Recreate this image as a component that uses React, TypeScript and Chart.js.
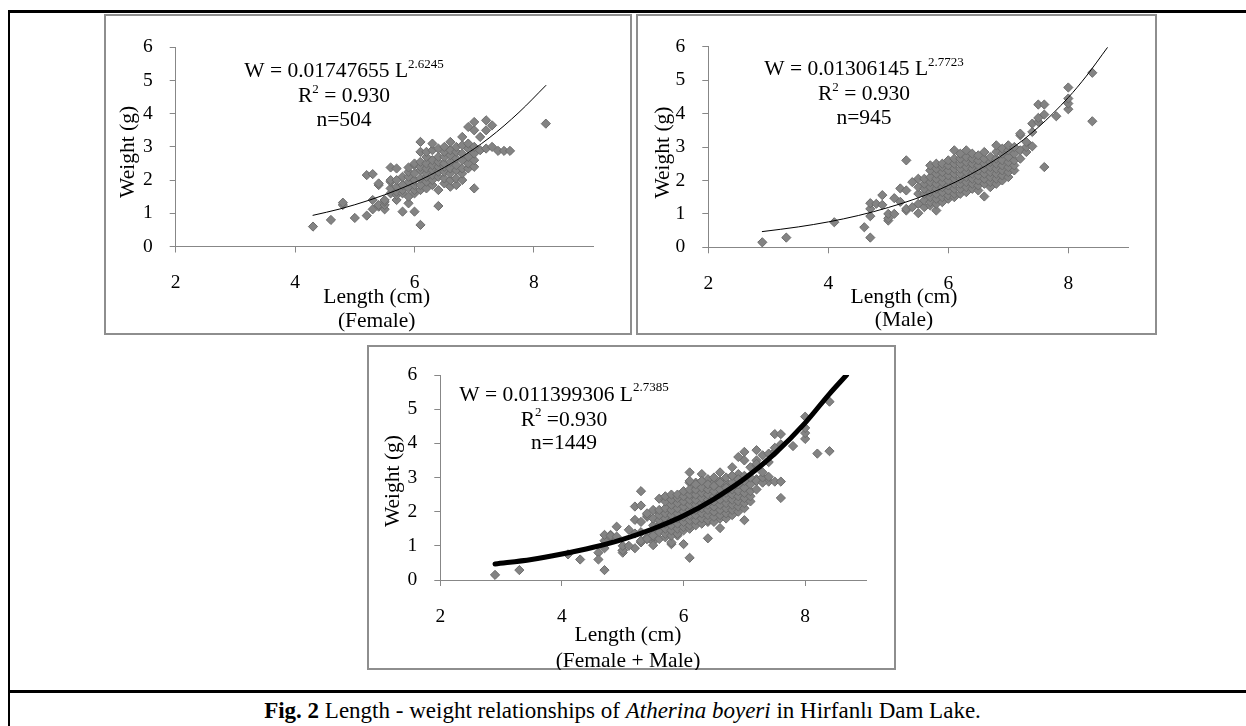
import { useEffect, useRef } from "react";
import { Chart, registerables } from "chart.js";

Chart.register(...registerables);

const FONT = '"Liberation Serif", "Times New Roman", serif';

// ---------- data ----------
const xTickValues = [2, 4, 6, 8];
const yTickValues = [0, 1, 2, 3, 4, 5, 6];

const femaleLengths = [4.3, 4.6, 4.8, 5.0, 5.2, 5.3, 5.4, 5.5, 5.6, 5.7, 5.8, 5.9, 6.0, 6.1, 6.2, 6.3, 6.4, 6.5, 6.6, 6.7, 6.8, 6.9, 7.0, 7.1, 7.2, 7.3, 7.4, 7.5, 7.6, 8.2];
const femaleWeights = [
  [0.6],
  [0.8],
  [1.25, 1.32],
  [0.86],
  [0.93, 2.15],
  [1.12, 1.4, 2.18],
  [1.2, 1.25, 1.85, 1.9],
  [1.12, 1.25, 1.35, 1.4],
  [1.6, 1.75, 1.95, 2.0, 2.38],
  [1.4, 1.55, 1.65, 1.8, 2.0, 2.35],
  [1.05, 1.6, 1.7, 1.85, 2.1],
  [1.3, 1.5, 1.75, 1.95, 2.1, 2.25, 2.38],
  [1.05, 1.6, 1.7, 1.85, 2.0, 2.2, 2.45, 2.5],
  [0.65, 1.7, 1.85, 2.05, 2.3, 2.4, 2.55, 2.85, 3.15],
  [1.75, 1.95, 2.1, 2.2, 2.35, 2.5, 2.7, 2.85],
  [1.85, 2.0, 2.15, 2.3, 2.45, 2.6, 2.9, 3.1],
  [1.22, 1.7, 2.1, 2.25, 2.4, 2.55, 2.7, 2.95],
  [1.9, 2.05, 2.25, 2.4, 2.5, 2.7, 2.85, 3.0],
  [1.8, 2.0, 2.2, 2.35, 2.55, 2.75, 2.9, 3.15],
  [1.85, 2.05, 2.3, 2.45, 2.65, 2.85, 3.0],
  [2.0, 2.2, 2.35, 2.6, 2.8, 3.05, 3.3],
  [2.35, 2.5, 2.7, 2.95, 3.1, 3.6],
  [1.75, 2.4, 2.6, 2.8, 3.0, 3.5, 3.75],
  [2.9, 3.3],
  [2.95, 3.5, 3.8],
  [3.0, 3.65],
  [2.88],
  [2.88],
  [2.88],
  [3.7],
];

const maleLengths = [2.9, 3.3, 4.1, 4.6, 4.7, 4.8, 4.9, 5.0, 5.1, 5.2, 5.3, 5.4, 5.5, 5.6, 5.7, 5.8, 5.9, 6.0, 6.1, 6.2, 6.3, 6.4, 6.5, 6.6, 6.7, 6.8, 6.9, 7.0, 7.1, 7.2, 7.3, 7.4, 7.5, 7.6, 7.8, 8.0, 8.4];
const maleWeights = [
  [0.15],
  [0.29],
  [0.75],
  [0.6],
  [0.29, 0.93, 1.15, 1.32],
  [1.3],
  [1.27, 1.56],
  [0.8, 0.87, 1.0],
  [1.0, 1.47],
  [1.36, 1.76],
  [1.1, 1.15, 1.7, 2.6],
  [1.2, 1.95],
  [1.02, 1.3, 1.6, 1.8, 2.05],
  [1.2, 1.4, 1.6, 1.75, 1.9, 2.05],
  [1.25, 1.35, 1.5, 1.65, 1.8, 1.95, 2.1, 2.3, 2.45],
  [1.1, 1.3, 1.45, 1.6, 1.75, 1.9, 2.05, 2.2, 2.35, 2.5],
  [1.35, 1.5, 1.65, 1.8, 1.95, 2.1, 2.25, 2.4, 2.5],
  [1.45, 1.55, 1.7, 1.85, 2.0, 2.15, 2.3, 2.45, 2.6],
  [1.5, 1.6, 1.75, 1.9, 2.05, 2.2, 2.35, 2.5, 2.65, 2.9],
  [1.6, 1.75, 1.9, 2.05, 2.2, 2.35, 2.5, 2.65, 2.8],
  [1.65, 1.8, 1.95, 2.1, 2.25, 2.4, 2.55, 2.7, 2.9],
  [1.75, 1.9, 2.05, 2.2, 2.35, 2.5, 2.65, 2.8],
  [1.7, 1.85, 2.0, 2.15, 2.3, 2.45, 2.6, 2.75],
  [1.52, 1.9, 2.05, 2.2, 2.35, 2.5, 2.65, 2.85],
  [1.8, 1.95, 2.1, 2.25, 2.4, 2.55, 2.7],
  [1.9, 2.05, 2.2, 2.35, 2.5, 2.65, 2.85, 3.05],
  [2.0, 2.15, 2.3, 2.45, 2.6, 2.8, 2.95],
  [2.1, 2.25, 2.4, 2.55, 2.7, 2.9, 3.05],
  [2.3, 2.45, 2.6, 2.8, 3.0],
  [2.65, 2.9, 3.35, 3.4],
  [2.85, 3.0, 3.15],
  [3.02, 3.45, 3.7],
  [3.75, 3.87, 4.27],
  [2.4, 3.97, 4.27],
  [3.92],
  [4.13, 4.3, 4.45, 4.78],
  [3.77, 5.22],
];

// trend lines
const femaleTrendLengths = [4.3, 4.75, 5.25, 5.75, 6.25, 6.75, 7.25, 7.75, 8.2];
const femaleTrendWeights = [0.94, 1.13, 1.4, 1.73, 2.14, 2.65, 3.27, 4.04, 4.85];
const maleTrendLengths = [2.9, 3.5, 4.0, 4.5, 5.0, 5.5, 6.0, 6.5, 7.0, 7.5, 8.0, 8.3, 8.65];
const maleTrendWeights = [0.47, 0.61, 0.76, 0.95, 1.19, 1.48, 1.85, 2.31, 2.88, 3.59, 4.48, 5.12, 5.97];
const allTrendLengths = [2.9, 3.5, 4.0, 4.5, 5.0, 5.5, 6.0, 6.5, 7.0, 7.5, 8.0, 8.4, 8.68];
const allTrendWeights = [0.47, 0.6, 0.76, 0.95, 1.19, 1.5, 1.88, 2.37, 2.96, 3.7, 4.6, 5.45, 6.0];

const femaleNotes = [
  [{ t: "W = 0.01747655 L" }, { t: "2.6245", sup: true }],
  [{ t: "R" }, { t: "2", sup: true }, { t: " = 0.930" }],
  [{ t: "n=504" }],
];
const maleNotes = [
  [{ t: "W = 0.01306145 L" }, { t: "2.7723", sup: true }],
  [{ t: "R" }, { t: "2", sup: true }, { t: " = 0.930" }],
  [{ t: "n=945" }],
];
const allNotes = [
  [{ t: "W = 0.011399306 L" }, { t: "2.7385", sup: true }],
  [{ t: "R" }, { t: "2", sup: true }, { t: " =0.930" }],
  [{ t: "n=1449" }],
];

// ---------- helpers ----------
type Seg = { t: string; sup?: boolean };
type Box = { l: number; t: number; r: number; b: number };

const toPoints = (lengths: number[], weights: number[][]) =>
  lengths.flatMap((L, i) => weights[i].map((w) => ({ x: L, y: w })));
const toLine = (lengths: number[], weights: number[]) =>
  lengths.map((L, i) => ({ x: L, y: weights[i] }));

const femalePoints = toPoints(femaleLengths, femaleWeights);
const malePoints = toPoints(maleLengths, maleWeights);
const allPoints = [...femalePoints, ...malePoints];

function drawRich(ctx: CanvasRenderingContext2D, segs: Seg[], cx: number, baseline: number, size: number) {
  const supSize = Math.round(size * 0.62);
  const widths: number[] = [];
  let total = 0;
  segs.forEach((sg) => {
    ctx.font = `${sg.sup ? supSize : size}px ${FONT}`;
    const w = ctx.measureText(sg.t).width;
    widths.push(w);
    total += w;
  });
  let x = cx - total / 2;
  ctx.textAlign = "left";
  ctx.textBaseline = "alphabetic";
  segs.forEach((sg, i) => {
    ctx.font = `${sg.sup ? supSize : size}px ${FONT}`;
    ctx.fillText(sg.t, x, sg.sup ? baseline - size * 0.42 : baseline);
    x += widths[i];
  });
}

type Spec = {
  box: Box;
  area: Box;
  points: { x: number; y: number }[];
  trend: { x: number; y: number }[];
  trendWidth: number;
  notes: Seg[][];
  noteX: number;
  noteY: number[];
  xTitle: string[];
  xTitleDX: number;
  xTitleDY: number[];
  yTitleDX: number;
  yTitleDY: number;
};

const specs: Spec[] = [
  {
    box: { l: 103.5, t: 14.3, r: 632.3, b: 335 },
    area: { l: 175.7, t: 47.3, r: 593.6, b: 246.5 },
    points: femalePoints,
    trend: toLine(femaleTrendLengths, femaleTrendWeights),
    trendWidth: 1,
    notes: femaleNotes,
    noteX: 168.3,
    noteY: [30, 54.5, 78.5],
    xTitle: ["Length (cm)", "(Female)"],
    xTitleDX: 201,
    xTitleDY: [51, 75],
    yTitleDX: -47.5,
    yTitleDY: 5,
  },
  {
    box: { l: 636, t: 14.3, r: 1157.3, b: 335 },
    area: { l: 708.3, t: 46.7, r: 1128.3, b: 247.3 },
    points: malePoints,
    trend: toLine(maleTrendLengths, maleTrendWeights),
    trendWidth: 1,
    notes: maleNotes,
    noteX: 155.7,
    noteY: [28.5, 53, 77],
    xTitle: ["Length (cm)", "(Male)"],
    xTitleDX: 195.7,
    xTitleDY: [50, 73.5],
    yTitleDX: -45.3,
    yTitleDY: 5.5,
  },
  {
    box: { l: 367, t: 345, r: 896, b: 670 },
    area: { l: 440.3, t: 375, r: 866, b: 580 },
    points: allPoints,
    trend: toLine(allTrendLengths, allTrendWeights),
    trendWidth: 5,
    notes: allNotes,
    noteX: 123.7,
    noteY: [25.5, 50.5, 73.5],
    xTitle: ["Length (cm)", "(Female + Male)"],
    xTitleDX: 187.7,
    xTitleDY: [55.7, 81],
    yTitleDX: -47.3,
    yTitleDY: 3.5,
  },
];

const AXIS_COLOR = "#878787";
const TICK_SIZE = 19.5;
const TITLE_SIZE = 21.5;
const NOTE_SIZE = 21.5;

function Panel({ spec }: { spec: Spec }) {
  const ref = useRef<HTMLCanvasElement>(null);
  const cl = Math.floor(spec.box.l);
  const ct = Math.floor(spec.box.t);
  const cw = Math.ceil(spec.box.r) - cl;
  const ch = Math.ceil(spec.box.b) - ct;

  useEffect(() => {
    const canvas = ref.current;
    if (!canvas) return;
    const a = spec.area;
    const yAxisW = a.l - cl;
    const padTop = a.t - ct;
    const padRight = cl + cw - a.r;
    const xAxisH = ct + ch - a.b;

    const textPlugin = {
      id: "panelText",
      afterDraw(chart: any) {
        const ctx: CanvasRenderingContext2D = chart.ctx;
        const ca = chart.chartArea;
        ctx.save();
        ctx.fillStyle = "#000";
        spec.notes.forEach((line, i) => drawRich(ctx, line, ca.left + spec.noteX, ca.top + spec.noteY[i], NOTE_SIZE));
        ctx.font = `${TITLE_SIZE}px ${FONT}`;
        ctx.textAlign = "center";
        ctx.textBaseline = "middle";
        spec.xTitle.forEach((t, i) => ctx.fillText(t, ca.left + spec.xTitleDX, ca.bottom + spec.xTitleDY[i]));
        ctx.translate(ca.left + spec.yTitleDX, (ca.top + ca.bottom) / 2 + spec.yTitleDY);
        ctx.rotate(-Math.PI / 2);
        ctx.fillText("Weight (g)", 0, 0);
        ctx.restore();
      },
    };

    const chart = new Chart(canvas, {
      type: "scatter",
      data: {
        datasets: [
          {
            data: spec.trend,
            showLine: true,
            borderColor: "#000",
            borderWidth: spec.trendWidth,
            pointRadius: 0,
            pointHoverRadius: 0,
            fill: false,
            cubicInterpolationMode: "monotone",
            borderCapStyle: "round",
            order: 0,
          } as any,
          {
            data: spec.points,
            showLine: false,
            pointStyle: "rectRot",
            pointRadius: 4.6,
            pointHoverRadius: 4.6,
            backgroundColor: "#838383",
            borderColor: "#6c6c6c",
            borderWidth: 1,
            order: 1,
          } as any,
        ],
      },
      options: {
        responsive: false,
        maintainAspectRatio: false,
        animation: false,
        devicePixelRatio: 1,
        events: [],
        layout: { padding: { left: 0, top: padTop, right: padRight, bottom: 0 } },
        plugins: { legend: { display: false }, tooltip: { enabled: false } },
        scales: {
          x: {
            type: "linear",
            position: "bottom",
            min: 2,
            max: 9,
            afterBuildTicks: (axis: any) => {
              axis.ticks = xTickValues.map((v) => ({ value: v }));
            },
            afterFit: (scale: any) => {
              scale.height = xAxisH;
            },
            ticks: { font: { family: FONT, size: TICK_SIZE }, color: "#000", padding: 19, maxRotation: 0, autoSkip: false },
            grid: { drawOnChartArea: false, drawTicks: true, tickLength: 6, color: AXIS_COLOR, lineWidth: 1 },
            border: { display: true, color: AXIS_COLOR, width: 1 },
          },
          y: {
            type: "linear",
            position: "left",
            min: 0,
            max: 6,
            afterBuildTicks: (axis: any) => {
              axis.ticks = yTickValues.map((v) => ({ value: v }));
            },
            afterFit: (scale: any) => {
              scale.width = yAxisW;
            },
            ticks: { font: { family: FONT, size: TICK_SIZE }, color: "#000", padding: 17 },
            grid: { drawOnChartArea: false, drawTicks: true, tickLength: 6, color: AXIS_COLOR, lineWidth: 1 },
            border: { display: true, color: AXIS_COLOR, width: 1 },
          },
        },
      } as any,
      plugins: [textPlugin as any],
    });
    return () => chart.destroy();
  }, []);

  return (
    <>
      <div
        style={{
          position: "absolute",
          left: spec.box.l,
          top: spec.box.t,
          width: spec.box.r - spec.box.l,
          height: spec.box.b - spec.box.t,
          border: "2.5px solid #8e8e8e",
          boxSizing: "border-box",
        }}
      />
      <canvas
        ref={ref}
        width={cw}
        height={ch}
        style={{ position: "absolute", left: cl, top: ct, width: cw, height: ch }}
      />
    </>
  );
}

export default function App() {
  return (
    <div
      style={{
        position: "absolute",
        left: 0,
        top: 0,
        width: 1246,
        height: 726,
        overflow: "hidden",
        background: "#fff",
        fontFamily: FONT,
      }}
    >
      <div style={{ position: "absolute", left: 7.5, top: 10, width: 1238.5, height: 2.5, background: "#000" }} />
      <div style={{ position: "absolute", left: 7.5, top: 10, width: 2.5, height: 716, background: "#000" }} />
      <div style={{ position: "absolute", left: 7.5, top: 690, width: 1238.5, height: 2.5, background: "#000" }} />
      {specs.map((s, i) => (
        <Panel key={i} spec={s} />
      ))}
      <div
        style={{
          position: "absolute",
          left: 0,
          top: 699,
          width: 1245,
          textAlign: "center",
          fontSize: 23,
          lineHeight: "23px",
          color: "#000",
          whiteSpace: "nowrap",
        }}
      >
        <b>Fig. 2</b> Length - weight relationships of <i>Atherina boyeri</i> in Hirfanlı Dam Lake.
      </div>
    </div>
  );
}
